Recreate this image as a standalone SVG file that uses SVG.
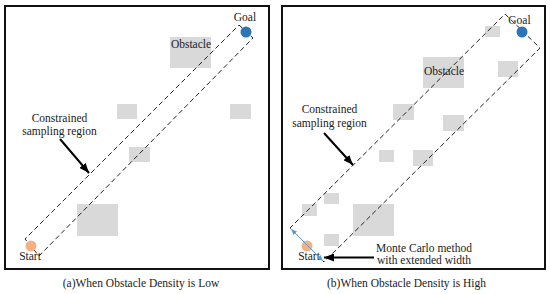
<svg xmlns="http://www.w3.org/2000/svg" width="550" height="294" viewBox="0 0 550 294">
<style>
  .panel{fill:#fff;stroke:#111;stroke-width:2}
  .obs{fill:#d9d9d9}
  .region{fill:none;stroke:#222;stroke-width:1;stroke-dasharray:5,3}
  .t{font-family:"Liberation Serif","Times New Roman",serif;font-size:11.5px;fill:#222}
  .mid{text-anchor:middle}
  .goal{fill:#2e75b6}
  .start{fill:#f4b183}
  .arrow{stroke:#000;stroke-width:2;fill:none;marker-end:url(#ah)}
  .blue{stroke:#5b9bd5;stroke-width:1;fill:none;marker-start:url(#bh);marker-end:url(#bh)}
</style>
<defs>
  <marker id="ah" markerWidth="10" markerHeight="8" refX="10" refY="4" orient="auto" markerUnits="userSpaceOnUse">
    <path d="M0,0 L10,4 L0,8 z" fill="#000"/>
  </marker>
  <marker id="bh" markerWidth="6" markerHeight="5" refX="6" refY="2.5" orient="auto-start-reverse" markerUnits="userSpaceOnUse">
    <path d="M0,0 L6,2.5 L0,5 z" fill="#5b9bd5"/>
  </marker>
</defs>
<rect width="550" height="294" fill="#fff"/>

<!-- Panel (a) -->
<g id="panel-a">
  <rect class="panel" x="5" y="6" width="264" height="263"/>
  <g id="a-obstacles">
    <rect class="obs" x="170" y="37" width="41" height="31"/>
    <rect class="obs" x="117" y="104" width="20" height="15"/>
    <rect class="obs" x="230" y="104" width="21" height="15"/>
    <rect class="obs" x="129" y="147" width="21" height="15"/>
    <rect class="obs" x="77" y="204" width="41" height="32"/>
  </g>
  <g id="a-region">
    <polygon class="region" points="239,25 253,38 39,256 25,239"/>
  </g>
  <g id="a-goal">
    <circle class="goal" cx="246" cy="32" r="5.5"/>
    <text class="t mid" x="245" y="21">Goal</text>
  </g>
  <g id="a-start">
    <circle class="start" cx="31" cy="246" r="5.5"/>
    <text class="t mid" x="30" y="260">Start</text>
  </g>
  <g id="a-obstacle-label">
    <text class="t mid" x="191" y="48">Obstacle</text>
  </g>
  <g id="a-region-label">
    <text class="t mid" x="59.5" y="122">Constrained</text>
    <text class="t mid" x="59.5" y="135">sampling region</text>
  </g>
  <text class="t mid" x="141" y="287">(a)When Obstacle Density is Low</text>
</g>

<!-- Panel (b) -->
<g id="panel-b">
  <rect class="panel" x="282" y="6" width="263" height="263"/>
  <g id="b-obstacles">
    <rect class="obs" x="485" y="26" width="15" height="11"/>
    <rect class="obs" x="423" y="57" width="41" height="31"/>
    <rect class="obs" x="498" y="61" width="20" height="16"/>
    <rect class="obs" x="393" y="104" width="21" height="16"/>
    <rect class="obs" x="443" y="115" width="21" height="16"/>
    <rect class="obs" x="379" y="150" width="15" height="12"/>
    <rect class="obs" x="413" y="150" width="20" height="16"/>
    <rect class="obs" x="324" y="193" width="15" height="11"/>
    <rect class="obs" x="302" y="204" width="15" height="12"/>
    <rect class="obs" x="353" y="204" width="41" height="32"/>
    <rect class="obs" x="324" y="234" width="15" height="12"/>
  </g>
  <g id="b-region">
    <polygon class="region" points="505,14 540,48 324,262 290,228"/>
  </g>
  <g id="b-goal">
    <circle class="goal" cx="522" cy="32" r="5.5"/>
    <text class="t mid" x="519.5" y="24">Goal</text>
  </g>
  <g id="b-start">
    <circle class="start" cx="307" cy="246" r="5.5"/>
    <text class="t mid" x="309" y="260">Start</text>
  </g>
  <g id="b-obstacle-label">
    <text class="t mid" x="444" y="75">Obstacle</text>
  </g>
  <g id="b-region-label">
    <text class="t mid" x="329.5" y="113">Constrained</text>
    <text class="t mid" x="329.5" y="126.5">sampling region</text>
  </g>
  <g id="b-montecarlo-label">
    <text class="t mid" x="424" y="252">Monte Carlo method</text>
    <text class="t mid" x="424" y="263.5">with extended width</text>
  </g>
  <text class="t mid" x="406.5" y="287">(b)When Obstacle Density is High</text>
</g>

<!-- Connectors -->
<g id="connectors">
  <line class="arrow" x1="60" y1="139" x2="89" y2="173"/>
  <line class="arrow" x1="324" y1="133" x2="353" y2="165"/>
  <line class="arrow" x1="374" y1="257.5" x2="324" y2="257.5"/>
  <line class="blue" x1="291" y1="229" x2="323" y2="261"/>
</g>
</svg>
